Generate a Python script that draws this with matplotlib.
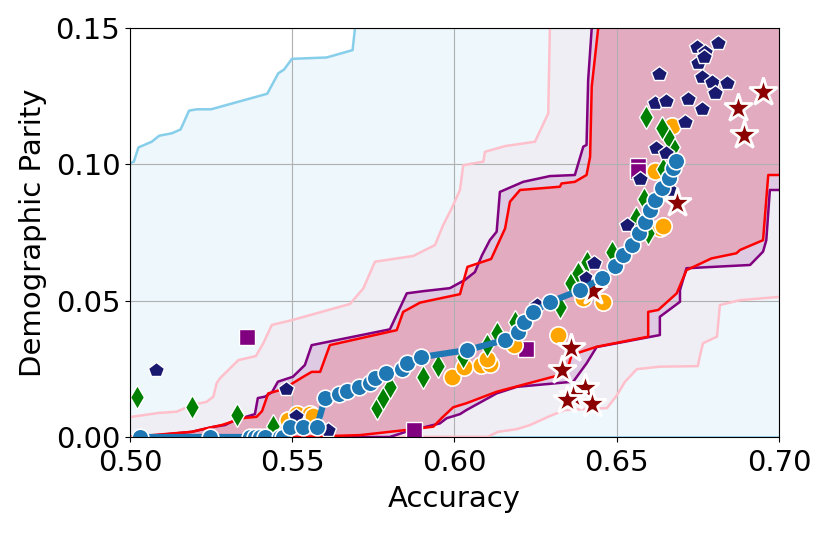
import numpy as np
import matplotlib
matplotlib.use('Agg')
from matplotlib import pyplot as plt

# frontier curves (upper / lower) for each method family
sky_up_x = [0.499, 0.5, 0.5012, 0.5026, 0.5067, 0.5090, 0.5129, 0.5156, 0.5182, 0.5206, 0.5250,
            0.5423, 0.5457, 0.5475, 0.5499, 0.5606, 0.5686, 0.5693, 0.5695, 0.70]
sky_up_y = [0.095, 0.1004, 0.1010, 0.1062, 0.1083, 0.1105, 0.1114, 0.1128, 0.1197, 0.1202, 0.1202,
            0.1259, 0.1334, 0.1348, 0.1387, 0.1392, 0.1419, 0.1495, 0.16, 0.16]
sky_lo_x = [0.5, 0.70]
sky_lo_y = [0.0, 0.0]

pink_up_x = [0.5, 0.5005, 0.5086, 0.5144, 0.5190, 0.5236, 0.5257, 0.5267, 0.5277, 0.5334, 0.5388,
             0.5411, 0.5437, 0.5500, 0.5678, 0.5719, 0.5755, 0.5873, 0.5940, 0.5965, 0.5992,
             0.6017, 0.6027, 0.6089, 0.6094, 0.6156, 0.6248, 0.6289, 0.6294, 0.6296, 0.70]
pink_up_y = [0.0072, 0.0074, 0.0088, 0.0093, 0.0117, 0.0129, 0.0148, 0.0197, 0.0215, 0.0282, 0.0297,
             0.0344, 0.0411, 0.0429, 0.0488, 0.0545, 0.0643, 0.0664, 0.0704, 0.0777, 0.0840,
             0.0906, 0.0997, 0.1010, 0.1046, 0.1067, 0.1083, 0.1187, 0.1500, 0.16, 0.16]
pink_lo_x = [0.5, 0.6103, 0.6134, 0.6193, 0.6233, 0.6294, 0.6340, 0.6470, 0.6501, 0.6525, 0.6562,
             0.6633, 0.6750, 0.6757, 0.6766, 0.6809, 0.6818, 0.6880, 0.6951, 0.7003]
pink_lo_y = [0.0, 0.0001, 0.0019, 0.0029, 0.0044, 0.0077, 0.0099, 0.0106, 0.0154, 0.0202, 0.0249,
             0.0258, 0.0260, 0.0301, 0.0344, 0.0368, 0.0484, 0.0502, 0.0509, 0.0514]

purple_up_x = [0.5, 0.5086, 0.5190, 0.5256, 0.5293, 0.5324, 0.5385, 0.5394, 0.5416, 0.5438, 0.5456,
               0.5502, 0.5539, 0.5560, 0.5801, 0.5853, 0.5904, 0.5986, 0.6032, 0.6063, 0.6085,
               0.6109, 0.6130, 0.6140, 0.6212, 0.6294, 0.6371, 0.6397, 0.6407, 0.6412, 0.6423,
               0.6425, 0.70]
purple_up_y = [0.0, 0.0007, 0.0019, 0.0037, 0.0044, 0.0062, 0.0084, 0.0143, 0.0148, 0.0165, 0.0203,
               0.0221, 0.0264, 0.0337, 0.0395, 0.0527, 0.0535, 0.0546, 0.0576, 0.0605, 0.0667,
               0.0722, 0.0753, 0.0899, 0.0936, 0.0957, 0.0961, 0.1065, 0.1071, 0.1309, 0.1500,
               0.16, 0.16]
purple_lo_x = [0.5, 0.5800, 0.5853, 0.5955, 0.5976, 0.6017, 0.6037, 0.6130, 0.6192, 0.6366, 0.6407,
               0.6438, 0.6633, 0.6633, 0.6695, 0.6695, 0.6715, 0.6911, 0.6951, 0.6961, 0.6972,
               0.7003]
purple_lo_y = [0.0, 0.0, 0.0020, 0.0050, 0.0069, 0.0084, 0.0099, 0.0160, 0.0184, 0.0203, 0.0270,
               0.0330, 0.0374, 0.0441, 0.0496, 0.0539, 0.0619, 0.0631, 0.0680, 0.0722, 0.0906,
               0.0906]

red_up_x = [0.5, 0.5139, 0.5190, 0.5240, 0.5283, 0.5314, 0.5344, 0.5390, 0.5407, 0.5426, 0.5471,
            0.5534, 0.5560, 0.5586, 0.5616, 0.5822, 0.5842, 0.5894, 0.6017, 0.6040, 0.6113,
            0.6156, 0.6171, 0.6202, 0.6325, 0.6330, 0.6371, 0.6407, 0.6418, 0.6423, 0.6443,
            0.6446, 0.70]
red_up_y = [0.0, 0.0014, 0.0019, 0.0033, 0.0044, 0.0056, 0.0069, 0.0074, 0.0095, 0.0160, 0.0175,
            0.0221, 0.0239, 0.0239, 0.0337, 0.0392, 0.0459, 0.0493, 0.0524, 0.0624, 0.0653,
            0.0765, 0.0863, 0.0906, 0.0918, 0.0930, 0.0936, 0.0961, 0.1028, 0.1285, 0.1500,
            0.16, 0.16]
red_lo_x = [0.5, 0.5515, 0.5709, 0.5853, 0.5935, 0.5961, 0.5996, 0.6037, 0.6130, 0.6345, 0.6361,
            0.6438, 0.6597, 0.6597, 0.6628, 0.6685, 0.6715, 0.6792, 0.6869, 0.6880, 0.6951,
            0.6967, 0.7003]
red_lo_y = [0.0, 0.0, 0.0007, 0.0026, 0.0038, 0.0070, 0.0109, 0.0124, 0.0166, 0.0234, 0.0301,
            0.0331, 0.0368, 0.0459, 0.0466, 0.0527, 0.0612, 0.0655, 0.0674, 0.0686, 0.0722,
            0.0961, 0.0961]

# individual runs
line_x = [0.5031, 0.5247, 0.5370, 0.5385, 0.5401, 0.5416, 0.5462, 0.5471, 0.5493, 0.5533, 0.5576,
          0.5601, 0.5644, 0.5669, 0.5706, 0.5740, 0.5755, 0.5789, 0.5838, 0.5854, 0.5897,
          0.6039, 0.6156, 0.6196, 0.6214, 0.6242, 0.6294, 0.6387, 0.6455, 0.6495, 0.6520,
          0.6547, 0.6569, 0.6587, 0.6602, 0.6618, 0.6639, 0.6661, 0.6673, 0.6683]
line_y = [0.0, 0.0, 0.0, 0.0, 0.0, 0.0, 0.0, 0.0, 0.0037, 0.0037, 0.0037,
          0.0143, 0.0158, 0.0169, 0.0183, 0.0198, 0.0216, 0.0235, 0.0249, 0.0271, 0.0293,
          0.0319, 0.0356, 0.0385, 0.0422, 0.0458, 0.0495, 0.0539, 0.0583, 0.0627, 0.0667,
          0.0704, 0.0748, 0.0789, 0.0833, 0.0869, 0.0913, 0.0950, 0.0987, 0.1012]

orange_x = [0.5488, 0.5514, 0.5555, 0.5564, 0.5992, 0.6029, 0.6082, 0.6109, 0.6100, 0.6183, 0.6319,
            0.6396, 0.6458, 0.6633, 0.6643, 0.6618, 0.6670]
orange_y = [0.0062, 0.0084, 0.0084, 0.0077, 0.0220, 0.0257, 0.0264, 0.0268, 0.0286, 0.0337, 0.0374,
            0.0510, 0.0495, 0.0766, 0.0774, 0.0976, 0.1141]

green_x = [0.5021, 0.5190, 0.5329, 0.5441, 0.5760, 0.5781, 0.5801, 0.5902, 0.5950, 0.6027, 0.6099,
           0.6130, 0.6186, 0.6325, 0.6359, 0.6382, 0.6407, 0.6487, 0.6597, 0.6560, 0.6584,
           0.6643, 0.6674, 0.6659, 0.6639, 0.6590]
green_y = [0.0148, 0.0111, 0.0081, 0.0040, 0.0105, 0.0142, 0.0183, 0.0220, 0.0259, 0.0293, 0.0337,
           0.0380, 0.0423, 0.0478, 0.0564, 0.0600, 0.0643, 0.0680, 0.0747, 0.0803, 0.0873,
           0.0983, 0.1065, 0.1101, 0.1132, 0.1175]

navy_x = [0.5080, 0.5481, 0.5512, 0.5611, 0.6253, 0.6430, 0.6405, 0.6531, 0.6572, 0.6664, 0.6621,
          0.6652, 0.6618, 0.6652, 0.6720, 0.6762, 0.6710, 0.6631, 0.6746, 0.6772, 0.6811,
          0.6751, 0.6770, 0.6762, 0.6793, 0.6803, 0.6841]
navy_y = [0.0246, 0.0175, 0.0077, 0.0024, 0.0484, 0.0637, 0.0585, 0.0778, 0.0945, 0.0906, 0.1059,
          0.1043, 0.1226, 0.1233, 0.1240, 0.1202, 0.1155, 0.1332, 0.1431, 0.1413, 0.1446,
          0.1371, 0.1395, 0.1319, 0.1303, 0.1263, 0.1297]

square_x = [0.5360, 0.5875, 0.6220, 0.6566, 0.6566]
square_y = [0.0368, 0.0026, 0.0322, 0.0994, 0.0975]

star_x = [0.6951, 0.6875, 0.6892, 0.6685, 0.6427, 0.6358, 0.6330, 0.6402, 0.6366, 0.6423, 0.6346]
star_y = [0.1266, 0.1205, 0.1109, 0.0857, 0.0534, 0.0325, 0.0246, 0.0179, 0.0150, 0.0121, 0.0134]

fig = plt.figure(figsize=(8.3, 5.34), dpi=100)
ax = fig.add_axes([0.1566, 0.1816, 0.7819, 0.7659])

bands = [
    (sky_up_x, sky_up_y, sky_lo_x, sky_lo_y, 'skyblue'),
    (pink_up_x, pink_up_y, pink_lo_x, pink_lo_y, 'pink'),
    (purple_up_x, purple_up_y, purple_lo_x, purple_lo_y, 'purple'),
    (red_up_x, red_up_y, red_lo_x, red_lo_y, 'red'),
]
for ux, uy, lx, ly, c in bands:
    ax.fill(np.r_[ux, lx[::-1]], np.r_[uy, ly[::-1]], color=c, alpha=0.15, lw=0)
    ax.plot(ux, uy, color=c, lw=1.8)
    ax.plot(lx, ly, color=c, lw=1.8)

ax.plot(square_x, square_y, 's', ls='none', color='purple', ms=11, mec='white', mew=1)
ax.plot(orange_x, orange_y, 'o', ls='none', color='orange', ms=12.5, mec='white', mew=1.2)
ax.plot(green_x, green_y, 'd', ls='none', color='green', ms=12, mec='white', mew=1)
ax.plot(navy_x, navy_y, 'p', ls='none', color='midnightblue', ms=11.5, mec='white', mew=1)
ax.plot(star_x, star_y, '*', ls='none', color='darkred', ms=21, mec='white', mew=2)
ax.plot(line_x, line_y, '-o', color='tab:blue', lw=4.5, ms=12, mec='white', mew=1.2)

ax.set_xlim(0.5, 0.7)
ax.set_ylim(0, 0.15)
ax.set_xticks([0.5, 0.55, 0.6, 0.65, 0.7])
ax.set_xticklabels(['0.50', '0.55', '0.60', '0.65', '0.70'])
ax.set_yticks([0.0, 0.05, 0.10, 0.15])
ax.set_yticklabels(['0.00', '0.05', '0.10', '0.15'])
ax.tick_params(labelsize=21)
ax.tick_params(axis='x', pad=5)
ax.set_xlabel('Accuracy', fontsize=21, labelpad=6)
ax.set_ylabel('Demographic Parity', fontsize=21, labelpad=6)
ax.grid(True)

fig.savefig('out.png')
